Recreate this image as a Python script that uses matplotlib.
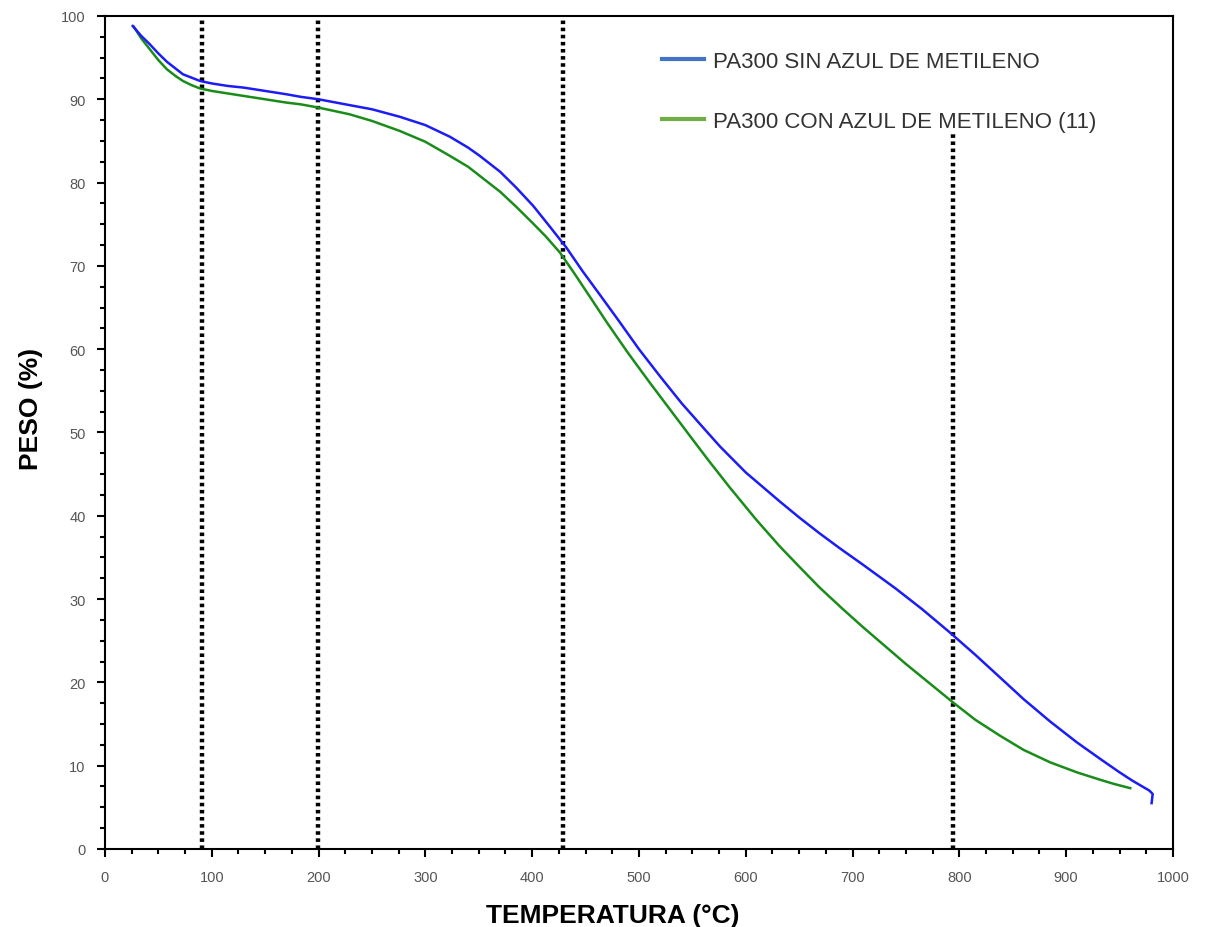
import matplotlib
matplotlib.use('Agg')
import matplotlib.pyplot as plt
from matplotlib.lines import Line2D
from matplotlib.ticker import MultipleLocator

plt.rcParams['font.family'] = ['Liberation Sans', 'DejaVu Sans']

# curva sin azul de metileno
t_sin = [26, 34, 42, 50, 58, 66, 73, 81, 89, 100, 115, 130, 150, 170, 183, 200, 229, 250,
         276, 300, 323, 340, 351, 370, 385, 401, 416, 432, 447, 463, 480, 500, 520, 540,
         560, 576, 600, 632, 650, 669, 688, 710, 740, 765, 791, 815, 838, 860, 885, 910,
         932, 950, 962, 970, 978, 981, 980]
w_sin = [98.8, 97.6, 96.6, 95.5, 94.5, 93.7, 93.0, 92.6, 92.2, 91.9, 91.6, 91.4, 91.0, 90.6, 90.3, 90.0, 89.3, 88.8,
         87.9, 86.9, 85.5, 84.2, 83.2, 81.3, 79.4, 77.2, 74.8, 72.2, 69.4, 66.6, 63.6, 60.0, 56.7, 53.5,
         50.6, 48.3, 45.2, 41.7, 39.8, 37.9, 36.1, 34.1, 31.3, 28.8, 26.0, 23.3, 20.6, 18.0, 15.3, 12.8,
         10.8, 9.2, 8.2, 7.6, 7.0, 6.6, 5.5]

# curva con azul de metileno
t_con = [27, 34, 42, 50, 58, 66, 73, 81, 89, 100, 115, 130, 150, 170, 183, 200, 229, 250,
         276, 300, 323, 340, 354, 370, 385, 400, 413, 426, 440, 454, 470, 490, 510, 530,
         550, 566, 585, 610, 632, 650, 669, 690, 710, 730, 750, 772, 794, 815, 838, 860,
         885, 910, 932, 945, 960]
w_con = [98.7, 97.3, 96.0, 94.7, 93.6, 92.8, 92.2, 91.7, 91.3, 91.0, 90.7, 90.4, 90.0, 89.6, 89.4, 89.0, 88.2, 87.4,
         86.2, 84.9, 83.2, 81.9, 80.5, 78.9, 77.1, 75.2, 73.5, 71.6, 69.0, 66.3, 63.2, 59.5, 56.0, 52.6,
         49.2, 46.5, 43.4, 39.5, 36.3, 33.9, 31.4, 28.9, 26.6, 24.4, 22.2, 19.9, 17.6, 15.5, 13.6, 11.9,
         10.4, 9.2, 8.3, 7.8, 7.3]

vlines_x = [91, 199, 429, 794]
vlines_top = [100, 100, 100, 86]

labels = ['PA300 SIN AZUL DE METILENO', 'PA300 CON AZUL DE METILENO (11)']

fig = plt.figure(figsize=(12.15, 9.28), dpi=100)
ax = fig.add_axes([0.0864, 0.0841, 0.879, 0.8976])

for x, top in zip(vlines_x, vlines_top):
    ax.plot([x, x], [0, top], color='black', lw=3.2, dashes=(0.8, 0.8), zorder=1)

ax.plot(t_sin, w_sin, color='#1c1cf5', lw=1.8, zorder=3)
ax.plot(t_con, w_con, color='#1a8c1a', lw=1.8, zorder=2)

ax.set_xlim(0, 1000)
ax.set_ylim(0, 100)
ax.xaxis.set_major_locator(MultipleLocator(100))
ax.xaxis.set_minor_locator(MultipleLocator(25))
ax.yaxis.set_major_locator(MultipleLocator(10))
ax.yaxis.set_minor_locator(MultipleLocator(2.5))
ax.tick_params(which='major', direction='out', length=6, width=1.5, labelsize=10.5,
               labelcolor='#555555')
ax.tick_params(axis='x', which='major', pad=9)
ax.tick_params(axis='y', which='major', pad=8)
ax.tick_params(which='minor', direction='out', length=3.5, width=1.5)
for s in ax.spines.values():
    s.set_linewidth(1.5)

ax.set_xlabel('TEMPERATURA (°C)', fontsize=19, fontweight='bold')
ax.xaxis.set_label_coords(0.475, -0.065)
ax.set_ylabel('PESO (%)', fontsize=19, fontweight='bold')
ax.yaxis.set_label_coords(-0.058, 0.53)

handles = [Line2D([], [], color='#4472c4', lw=3),
           Line2D([], [], color='#70ad47', lw=3)]
leg = ax.legend(handles, labels, loc='upper left', bbox_to_anchor=(0.503, 0.982),
                frameon=False, fontsize=16, handlelength=1.9, handletextpad=0.4,
                labelspacing=1.75)
for txt in leg.get_texts():
    txt.set_color('#333333')

fig.savefig('out.png', dpi=100)
